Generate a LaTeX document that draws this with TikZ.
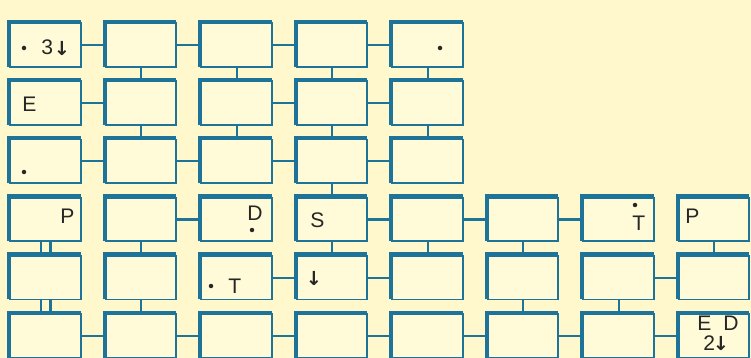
\documentclass[tikz,border=0pt]{standalone}
\usepackage{fontspec}
\setmainfont{Liberation Sans}
\newfontfamily\arrowfont{DejaVu Sans}
\usetikzlibrary{calc}

\definecolor{boxblue}{RGB}{30,116,152}
\definecolor{paper}{RGB}{255,248,204}
\definecolor{cellfill}{RGB}{255,250,215}

\tikzset{
  cell/.style={draw=boxblue, line width=1.1pt, fill=cellfill,
    minimum width=1.41cm, minimum height=0.875cm, inner sep=0pt, outer sep=0pt},
  rim/.style={draw=boxblue, line width=2.4pt},
  link/.style={draw=boxblue, line width=1.2pt},
  glyph/.style={text=black!85, font=\fontsize{12pt}{14pt}\selectfont,
    inner sep=0pt, anchor=base west},
  pointer/.style={text=black!85, font=\fontsize{11pt}{12pt}\arrowfont\bfseries,
    inner sep=0pt, anchor=center},
  pip/.style={circle, fill=black!85, inner sep=0pt, minimum size=0.09cm}
}

\begin{document}
\begin{tikzpicture}[x=0.02cm, y=-0.02cm]
\fill[paper] (0,0) rectangle (751,358);
\clip (0,0) rectangle (751,358);

\foreach \r in {0,1,2}
{
	\foreach \c in {0,...,4}
	{
		\node[cell] (t\r x\c) at (45.6+95.5*\c, 45.2+58.1*\r) {};
		\draw[rim] ([xshift=-0.65pt]t\r x\c.south west) |- ([yshift=0.65pt]t\r x\c.north east);
	}
}

\foreach \r in {3,4,5}
{
	\foreach \c in {0,...,7}
	{
		\node[cell] (t\r x\c) at (45.6+95.5*\c, 45.2+58.1*\r) {};
		\draw[rim] ([xshift=-0.65pt]t\r x\c.south west) |- ([yshift=0.65pt]t\r x\c.north east);
	}
}

\foreach \r/\a/\b in {0/0/1,0/1/2,0/2/3,0/3/4,
	1/0/1,1/2/3,1/3/4,
	2/0/1,2/1/2,2/2/3,2/3/4,
	3/1/2,3/3/4,3/4/5,3/5/6,
	4/2/3,4/3/4,4/6/7,
	5/0/1,5/1/2,5/2/3,5/3/4,5/4/5,5/5/6,5/6/7}
{
	\draw[link] (t\r x\a.east) -- (t\r x\b.west);
}

\foreach \r/\s/\c in {0/1/1,0/1/2,0/1/3,0/1/4,
	1/2/1,1/2/2,1/2/3,1/2/4,
	2/3/3,
	3/4/1,3/4/3,3/4/4,3/4/5,3/4/7,
	4/5/1,4/5/5,4/5/6}
{
	\draw[link] (t\r x\c.south) -- (t\s x\c.north);
}

\foreach \r/\s in {3/4,4/5}
{
	\draw[link] ([xshift=-2.8pt]t\r x0.south) -- ([xshift=-2.8pt]t\s x0.north);
	\draw[link] ([xshift=2.8pt]t\r x0.south) -- ([xshift=2.8pt]t\s x0.north);
}

\node[pip] (d0x0) at (24,48) {};
\node[glyph] (g0x0) at (41,55) {3};
\node[pointer] (a0x0) at (62,48) {↓};
\node[pip] (d0x4) at (440,48) {};
\node[glyph] (g1x0) at (22,112) {E};
\node[pip] (d2x0) at (24,172) {};
\node[glyph] (g3x0) at (60,223) {P};
\node[glyph] (g3x2) at (247,220) {D};
\node[pip] (d3x2) at (252,230) {};
\node[glyph] (g3x3) at (310,227) {S};
\node[pip] (d3x6) at (635,205) {};
\node[glyph] (g3x6) at (632,231) {T};
\node[glyph] (g3x7) at (685,223) {P};
\node[pip] (d4x2) at (211,286) {};
\node[glyph] (g4x2) at (228,293) {T};
\node[pointer] (a4x3) at (314,278) {↓};
\node[glyph] (g5x7a) at (697,330) {E};
\node[glyph] (g5x7b) at (723,330) {D};
\node[glyph] (g5x7c) at (703,350) {2};
\node[pointer] (a5x7) at (721,343) {↓};
\end{tikzpicture}
\end{document}
